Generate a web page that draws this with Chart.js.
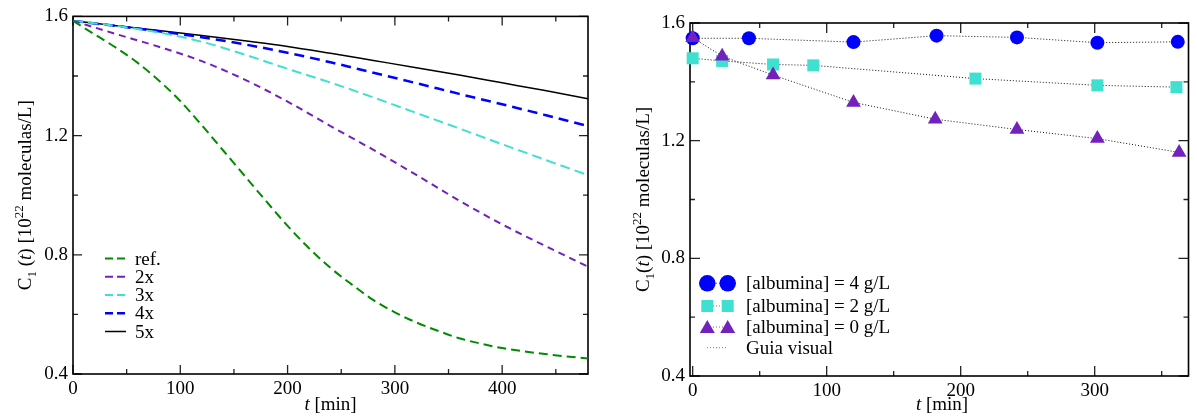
<!DOCTYPE html>
<html>
<head>
<meta charset="utf-8">
<script src="https://cdn.jsdelivr.net/npm/chart.js@4.4.1/dist/chart.umd.min.js"></script>
<style>
  body { margin: 0; background: #fff; }
  #painel { position: relative; width: 1197px; height: 420px; }
  .caixa { position: absolute; top: 0; height: 420px; }
</style>
</head>
<body>
<div id="painel">
  <div class="caixa" style="left:0;width:598px"><canvas id="graf1" width="598" height="420"></canvas></div>
  <div class="caixa" style="left:598px;width:599px"><canvas id="graf2" width="599" height="420"></canvas></div>
</div>
<script>
// ---- dados do painel esquerdo (modelo) ----
var tempoRef = [0, 20, 40, 60, 80, 100, 120, 140, 160, 180, 200, 220, 240, 260, 280, 300, 320, 340, 360, 380, 400, 420, 440, 460, 480];
var c1Ref = [1.585, 1.54, 1.495, 1.445, 1.385, 1.316, 1.235, 1.15, 1.065, 0.98, 0.897, 0.822, 0.756, 0.7, 0.648, 0.607, 0.573, 0.545, 0.52, 0.502, 0.487, 0.476, 0.467, 0.459, 0.452];
var tempo = [0, 40, 80, 120, 160, 200, 240, 280, 320, 360, 400, 440, 480];
var c1Dois = [1.585, 1.541, 1.498, 1.45, 1.388, 1.314, 1.232, 1.152, 1.068, 0.982, 0.902, 0.83, 0.76];
var c1Tres = [1.585, 1.568, 1.546, 1.515, 1.472, 1.424, 1.378, 1.328, 1.276, 1.224, 1.171, 1.119, 1.067];
var c1Quatro = [1.585, 1.568, 1.55, 1.53, 1.506, 1.478, 1.446, 1.411, 1.376, 1.34, 1.305, 1.269, 1.232];
var c1Cinco = [1.585, 1.569, 1.553, 1.536, 1.518, 1.499, 1.476, 1.452, 1.428, 1.403, 1.377, 1.351, 1.324];
var nomesModelo = ['ref.', '2x', '3x', '4x', '5x'];

// ---- dados do painel direito (experimento) ----
var tAlb4 = [0, 42, 120, 182, 242, 302, 362];
var cAlb4 = [1.548, 1.548, 1.535, 1.557, 1.551, 1.533, 1.536];
var tAlb2 = [0, 22, 60, 90, 211, 302, 361];
var cAlb2 = [1.48, 1.471, 1.459, 1.456, 1.411, 1.388, 1.382];
var tAlb0 = [0, 22, 60, 120, 181, 242, 302, 363];
var cAlb0 = [1.55, 1.487, 1.423, 1.33, 1.273, 1.238, 1.207, 1.16];
var nomesExp = ['[albumina] = 4 g/L', '[albumina] = 2 g/L', '[albumina] = 0 g/L', 'Guia visual'];

// ---- ticks ----
var ticksX1 = [0, 100, 200, 300, 400];
var menoresX1 = [50, 150, 250, 350, 450];
var ticksX2 = [0, 100, 200, 300];
var menoresX2 = [50, 150, 250, 350];
var ticksY = [0.4, 0.8, 1.2, 1.6];
var menoresY = [0.6, 1.0, 1.4];

var fonte = "'Liberation Serif', 'DejaVu Serif', serif";
var tamFonte = 19;
var verde = 'rgb(0,139,0)', indigo = 'rgb(114,33,188)', turquesa = 'rgb(64,224,208)', azul = 'rgb(0,0,255)';

Chart.defaults.font.family = fonte;
Chart.defaults.font.size = tamFonte;
Chart.defaults.color = '#000';

function pontos(xs, ys) {
    return xs.map(function (x, i) { return { x: x, y: ys[i] }; });
}

function estilo(p) {
    var tam = (p.sub || p.sup) ? 13 : tamFonte;
    return (p.it ? 'italic ' : '') + tam + 'px ' + fonte;
}

// texto com sub/sobrescrito e italico, centrado em (cx, cy)
function textoRico(ctx, partes, cx, cy, girar) {
    ctx.save();
    ctx.translate(cx, cy);
    if (girar) ctx.rotate(-Math.PI / 2);
    ctx.fillStyle = '#000';
    ctx.textBaseline = 'alphabetic';
    ctx.textAlign = 'left';
    var larg = 0;
    partes.forEach(function (p) { ctx.font = estilo(p); larg += ctx.measureText(p.t).width; });
    var x = -larg / 2;
    partes.forEach(function (p) {
        ctx.font = estilo(p);
        var dy = p.sub ? 5 : (p.sup ? -8 : 0);
        ctx.fillText(p.t, x, 6 + dy);
        x += ctx.measureText(p.t).width;
    });
    ctx.restore();
}

// moldura e marcas para dentro, nos quatro lados
function moldura(maioresX, menoresX, longo, curto) {
    return {
        id: 'moldura',
        beforeDatasetsDraw: function (chart) {
            var ctx = chart.ctx, a = chart.chartArea, sx = chart.scales.x, sy = chart.scales.y;
            ctx.save();
            ctx.strokeStyle = '#222';
            ctx.lineWidth = 1.3;
            ctx.beginPath();
            function marcaX(v, L) {
                var px = sx.getPixelForValue(v);
                ctx.moveTo(px, a.bottom); ctx.lineTo(px, a.bottom - L);
                ctx.moveTo(px, a.top); ctx.lineTo(px, a.top + L);
            }
            function marcaY(v, L) {
                var py = sy.getPixelForValue(v);
                ctx.moveTo(a.left, py); ctx.lineTo(a.left + L, py);
                ctx.moveTo(a.right, py); ctx.lineTo(a.right - L, py);
            }
            maioresX.forEach(function (v) { marcaX(v, longo); });
            menoresX.forEach(function (v) { marcaX(v, curto); });
            ticksY.forEach(function (v) { marcaY(v, longo); });
            menoresY.forEach(function (v) { marcaY(v, curto); });
            ctx.stroke();
            ctx.strokeStyle = '#000';
            ctx.lineWidth = 1.6;
            ctx.strokeRect(a.left, a.top, a.right - a.left, a.bottom - a.top);
            ctx.restore();
        }
    };
}

function titulos(partesY, cxY, cxX) {
    return {
        id: 'titulos',
        afterDraw: function (chart) {
            var a = chart.chartArea;
            textoRico(chart.ctx, partesY, cxY, (a.top + a.bottom) / 2, true);
            textoRico(chart.ctx, [{ t: 't', it: 1 }, { t: ' [min]' }], cxX, 404, false);
        }
    };
}

function escalas(minX, maxX, marcasX, largY, altX) {
    return {
        x: {
            type: 'linear', min: minX, max: maxX,
            grid: { display: false, drawTicks: false }, border: { display: false },
            afterBuildTicks: function (s) { s.ticks = marcasX.map(function (v) { return { value: v }; }); },
            afterFit: function (s) { s.height = altX; },
            ticks: { autoSkip: false, maxRotation: 0, padding: 4, color: '#000',
                font: { family: fonte, size: tamFonte }, callback: function (v) { return String(v); } }
        },
        y: {
            type: 'linear', min: 0.4, max: 1.6,
            grid: { display: false, drawTicks: false }, border: { display: false },
            afterBuildTicks: function (s) { s.ticks = ticksY.map(function (v) { return { value: v }; }); },
            afterFit: function (s) { s.width = largY; },
            ticks: { padding: 5, color: '#000', font: { family: fonte, size: tamFonte },
                callback: function (v) { return v.toFixed(1); } }
        }
    };
}

// ---- painel esquerdo ----
var estilosModelo = [
    { cor: verde, dash: [9, 5], w: 2 },
    { cor: indigo, dash: [7, 5], w: 2 },
    { cor: turquesa, dash: [10, 5], w: 2 },
    { cor: azul, dash: [10, 6], w: 2.5 },
    { cor: '#000', dash: [], w: 1.5 }
];
var seriesModelo = [pontos(tempoRef, c1Ref), pontos(tempo, c1Dois), pontos(tempo, c1Tres),
    pontos(tempo, c1Quatro), pontos(tempo, c1Cinco)];

var legendaModelo = {
    id: 'legendaModelo',
    afterDraw: function (chart) {
        var ctx = chart.ctx;
        ctx.save();
        nomesModelo.forEach(function (nome, i) {
            var y = 258.5 + i * 18.25, e = estilosModelo[i];
            ctx.strokeStyle = e.cor;
            ctx.lineWidth = e.w;
            ctx.setLineDash(e.dash.length ? [8, 4] : []);
            ctx.beginPath(); ctx.moveTo(105, y); ctx.lineTo(126, y); ctx.stroke();
            ctx.setLineDash([]);
            ctx.fillStyle = '#000';
            ctx.font = tamFonte + 'px ' + fonte;
            ctx.textBaseline = 'alphabetic';
            ctx.fillText(nome, 135, y + 6);
        });
        ctx.restore();
    }
};

new Chart(document.getElementById('graf1'), {
    type: 'line',
    data: {
        datasets: seriesModelo.map(function (s, i) {
            return {
                label: nomesModelo[i], data: s,
                borderColor: estilosModelo[i].cor, borderWidth: estilosModelo[i].w,
                borderDash: estilosModelo[i].dash, pointRadius: 0,
                cubicInterpolationMode: 'monotone', fill: false
            };
        })
    },
    options: {
        responsive: false, animation: false, events: [],
        layout: { padding: { top: 15, right: 10, left: 0, bottom: 0 } },
        plugins: { legend: { display: false }, tooltip: { enabled: false } },
        scales: escalas(0, 480, ticksX1, 73, 46)
    },
    plugins: [moldura(ticksX1, menoresX1, 9, 5),
        titulos([{ t: 'C' }, { t: '1', sub: 1 }, { t: ' (' }, { t: 't', it: 1 }, { t: ') [10' }, { t: '22', sup: 1 }, { t: ' moleculas/L]' }], 25, 330.5),
        legendaModelo]
});

// ---- painel direito ----
var guia = { borderColor: '#111', borderWidth: 1, borderDash: [1, 2], pointBorderWidth: 0, clip: false, tension: 0 };

function simbolo(ctx, tipo, x, y, cor) {
    ctx.fillStyle = cor;
    ctx.beginPath();
    if (tipo === 'circle') {
        ctx.arc(x, y, 8.3, 0, Math.PI * 2);
    } else if (tipo === 'rect') {
        ctx.rect(x - 6, y - 6, 12, 12);
    } else {
        ctx.moveTo(x, y - 7); ctx.lineTo(x + 7.5, y + 6); ctx.lineTo(x - 7.5, y + 6); ctx.closePath();
    }
    ctx.fill();
}

var legendaExp = {
    id: 'legendaExp',
    afterDraw: function (chart) {
        var ctx = chart.ctx;
        var tipos = ['circle', 'rect', 'triangle'], cores = [azul, turquesa, indigo];
        var ys = [283.3, 306, 327, 347.7];
        ctx.save();
        nomesExp.forEach(function (nome, i) {
            var y = ys[i];
            ctx.strokeStyle = '#777';
            ctx.lineWidth = 1;
            ctx.setLineDash([1, 2]);
            ctx.beginPath(); ctx.moveTo(109, y); ctx.lineTo(130, y); ctx.stroke();
            ctx.setLineDash([]);
            if (i < 3) {
                simbolo(ctx, tipos[i], 109.3, y, cores[i]);
                simbolo(ctx, tipos[i], 129.7, y, cores[i]);
            }
            ctx.fillStyle = '#000';
            ctx.font = tamFonte + 'px ' + fonte;
            ctx.textBaseline = 'alphabetic';
            ctx.fillText(nome, 148, y + 6);
        });
        ctx.restore();
    }
};

new Chart(document.getElementById('graf2'), {
    type: 'line',
    data: {
        datasets: [
            Object.assign({ label: nomesExp[2], data: pontos(tAlb0, cAlb0), pointStyle: 'triangle', pointRadius: 8.5,
                pointBackgroundColor: indigo }, guia),
            Object.assign({ label: nomesExp[1], data: pontos(tAlb2, cAlb2), pointStyle: 'rect', pointRadius: 8.5,
                pointBackgroundColor: turquesa }, guia),
            Object.assign({ label: nomesExp[0], data: pontos(tAlb4, cAlb4), pointStyle: 'circle', pointRadius: 7,
                pointBackgroundColor: azul }, guia)
        ]
    },
    options: {
        responsive: false, animation: false, events: [],
        layout: { padding: { top: 23, right: 3, left: 0, bottom: 0 } },
        plugins: { legend: { display: false }, tooltip: { enabled: false } },
        scales: escalas(-2, 370, ticksX2, 92, 44)
    },
    plugins: [moldura(ticksX2, menoresX2, 10, 5),
        titulos([{ t: 'C' }, { t: '1', sub: 1 }, { t: '(' }, { t: 't', it: 1 }, { t: ') [10' }, { t: '22', sup: 1 }, { t: ' moleculas/L]' }], 45, 344),
        legendaExp]
});
</script>
</body>
</html>
